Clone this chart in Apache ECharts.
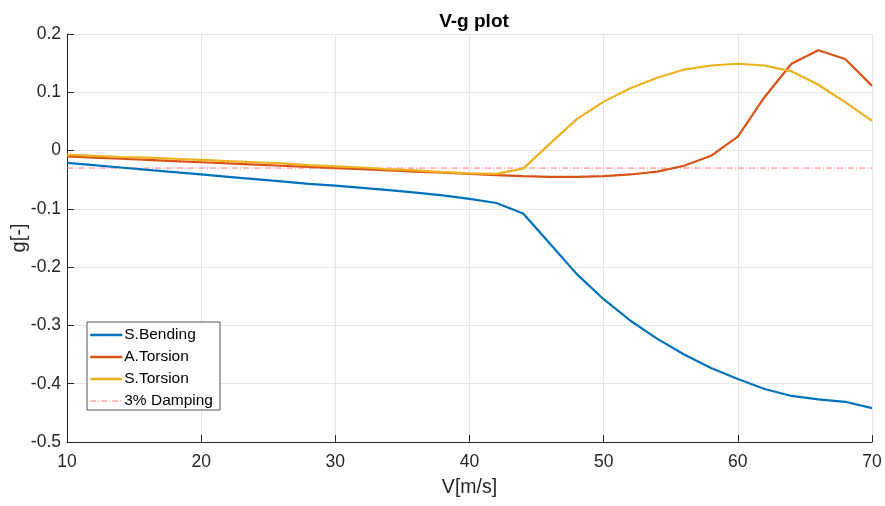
<!DOCTYPE html>
<html>
<head>
<meta charset="utf-8">
<script src="https://cdn.jsdelivr.net/npm/echarts@6/dist/echarts.min.js"></script>
<style>html,body{margin:0;padding:0;background:#fff;}#c{width:885px;height:506px;}</style>
</head>
<body>
<div id="c"></div>
<script>
const speeds = [10,12,14,16,18,20,22,24,26,28,30,32,34,36,38,40,42,44,46,48,50,52,54,56,58,60,62,64,66,68,70];
const sBending = [-0.021,-0.025,-0.029,-0.033,-0.037,-0.041,-0.045,-0.049,-0.053,-0.057,-0.060,-0.064,-0.068,-0.072,-0.077,-0.083,-0.090,-0.108,-0.160,-0.212,-0.255,-0.292,-0.323,-0.350,-0.373,-0.392,-0.409,-0.421,-0.427,-0.431,-0.442];
const aTorsion = [-0.010,-0.012,-0.014,-0.016,-0.018,-0.020,-0.022,-0.024,-0.026,-0.028,-0.030,-0.032,-0.034,-0.036,-0.038,-0.040,-0.042,-0.044,-0.045,-0.045,-0.044,-0.041,-0.036,-0.026,-0.009,0.024,0.092,0.149,0.172,0.157,0.111];
const sTorsion = [-0.007,-0.009,-0.011,-0.012,-0.014,-0.016,-0.018,-0.020,-0.022,-0.025,-0.027,-0.029,-0.032,-0.034,-0.037,-0.039,-0.040,-0.031,0.012,0.054,0.084,0.107,0.125,0.139,0.146,0.149,0.146,0.136,0.113,0.083,0.051];
const dampingLevel = -0.03;
const dampingRange = [10, 70];

const pair = (ys) => speeds.map((v, i) => [v, ys[i]]);
const font = 'Liberation Sans, Arial, Helvetica, sans-serif';

const chart = echarts.init(document.getElementById('c'), null, {renderer: 'canvas'});
chart.setOption({
  animation: false,
  backgroundColor: '#ffffff',
  title: {
    text: 'V-g plot', left: 469, top: 7, textAlign: 'center',
    textStyle: {fontFamily: font, fontSize: 19, fontWeight: 'bold', color: '#000'}
  },
  grid: {left: 67, right: 13, top: 34, bottom: 64, containLabel: false, outerBoundsMode: 'none'},
  legend: {
    orient: 'vertical', left: 87, top: 322,
    itemWidth: 32, itemHeight: 14, itemGap: 6,
    padding: [5, 7, 1, 2],
    borderColor: '#262626', borderWidth: 0.8, borderRadius: 0, backgroundColor: '#fff',
    itemStyle: {opacity: 0},
    textStyle: {fontFamily: font, fontSize: 15.5, color: '#000', padding: [0,0,0,-3]},
    data: [
      {name: 'S.Bending', lineStyle: {width: 2.5}},
      {name: 'A.Torsion', lineStyle: {width: 2.5}},
      {name: 'S.Torsion', lineStyle: {width: 2.5}},
      {name: '3% Damping', lineStyle: {width: 1}}
    ]
  },
  xAxis: {
    type: 'value', min: 10, max: 70, interval: 10,
    name: 'V[m/s]', nameLocation: 'middle', nameGap: 36, nameMoveOverlap: false,
    nameTextStyle: {fontFamily: font, fontSize: 19.5, color: '#262626'},
    axisLine: {show: true, onZero: false, lineStyle: {color: '#262626', width: 1}},
    axisTick: {show: true, inside: true, length: 7, lineStyle: {color: '#262626'}},
    axisLabel: {fontFamily: font, fontSize: 17.5, color: '#262626', margin: 11},
    splitLine: {show: true, lineStyle: {color: '#e6e6e6', width: 1}}
  },
  yAxis: {
    type: 'value', min: -0.5, max: 0.2, interval: 0.1,
    name: 'g[-]', nameLocation: 'middle', nameGap: 38, nameRotate: 90, nameMoveOverlap: false,
    nameTextStyle: {fontFamily: font, fontSize: 20, color: '#262626'},
    axisLine: {show: true, onZero: false, lineStyle: {color: '#262626', width: 1}},
    axisTick: {show: true, inside: true, length: 7, lineStyle: {color: '#262626'}},
    axisLabel: {fontFamily: font, fontSize: 17.5, color: '#262626', margin: 6,
      formatter: v => { const r = Math.round(v * 10) / 10; return r === 0 ? '0' : String(r); }},
    splitLine: {show: true, lineStyle: {color: '#e6e6e6', width: 1}}
  },
  series: [
    {name: 'S.Bending', type: 'line', data: pair(sBending), showSymbol: false, symbol: 'none',
      lineStyle: {color: '#0072BD', width: 2.2}, itemStyle: {color: '#0072BD'}},
    {name: 'A.Torsion', type: 'line', data: pair(aTorsion), showSymbol: false, symbol: 'none',
      lineStyle: {color: '#D95319', width: 2.2}, itemStyle: {color: '#D95319'}},
    {name: 'S.Torsion', type: 'line', data: pair(sTorsion), showSymbol: false, symbol: 'none',
      lineStyle: {color: '#EDB120', width: 2.2}, itemStyle: {color: '#EDB120'}},
    {name: '3% Damping', type: 'line', data: dampingRange.map(v => [v, dampingLevel]), showSymbol: false, symbol: 'none',
      z: 1,
      lineStyle: {color: '#ff7a7a', width: 1, type: [6, 2, 1, 2]}, itemStyle: {color: '#ff7a7a'}}
  ]
});
</script>
</body>
</html>
